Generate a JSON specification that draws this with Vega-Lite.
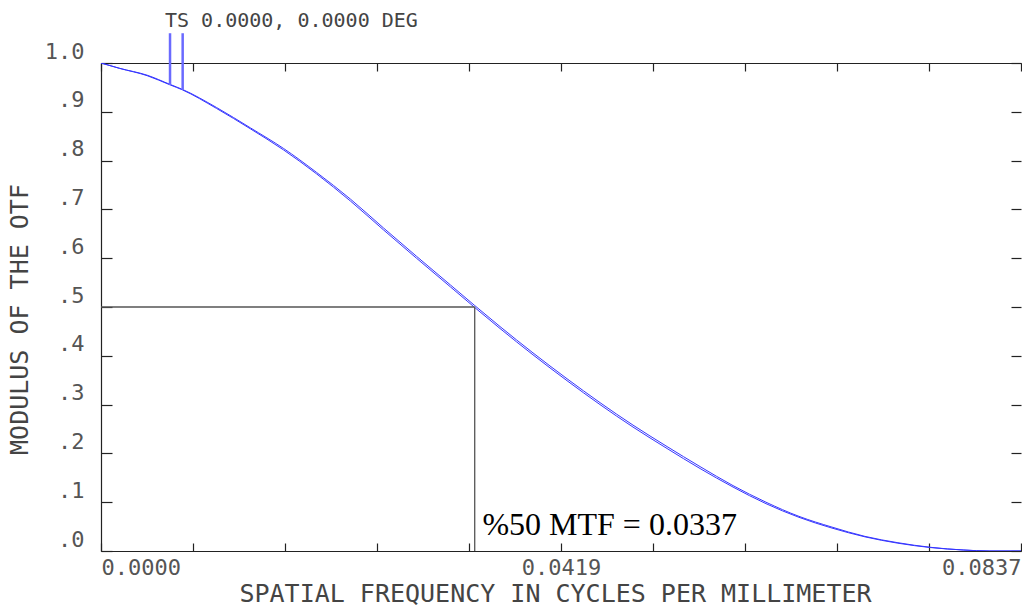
{
  "$schema": "https://vega.github.io/schema/vega-lite/v6.json",
  "width": 920,
  "height": 488,
  "autosize": {"type": "none"},
  "padding": {"left": 101, "top": 63, "right": 1, "bottom": 55},
  "background": "white",
  "config": {
    "view": {"stroke": null},
    "axis": {
      "grid": false,
      "domainColor": "#222",
      "domainWidth": 1.2,
      "tickColor": "#222",
      "tickWidth": 1.2,
      "labelFont": "DejaVu Sans Mono",
      "titleFont": "DejaVu Sans Mono",
      "labelColor": "#555",
      "titleColor": "#444",
      "labelFontSize": 22,
      "titleFontSize": 25,
      "titleFontWeight": "normal",
      "labelOverlap": false
    }
  },
  "datasets": {
    "curves": [
      {"series": "T", "f": 0, "v": 1.0},
      {"series": "T", "f": 0.0017, "v": 0.989},
      {"series": "T", "f": 0.0042, "v": 0.974},
      {"series": "T", "f": 0.0063, "v": 0.955},
      {"series": "T", "f": 0.0074, "v": 0.945},
      {"series": "T", "f": 0.0105, "v": 0.907},
      {"series": "T", "f": 0.0136, "v": 0.865},
      {"series": "T", "f": 0.0166, "v": 0.822},
      {"series": "T", "f": 0.0196, "v": 0.773},
      {"series": "T", "f": 0.0227, "v": 0.717},
      {"series": "T", "f": 0.0257, "v": 0.658},
      {"series": "T", "f": 0.0287, "v": 0.600},
      {"series": "T", "f": 0.0318, "v": 0.541},
      {"series": "T", "f": 0.0340, "v": 0.499},
      {"series": "T", "f": 0.0363, "v": 0.456},
      {"series": "T", "f": 0.0393, "v": 0.402},
      {"series": "T", "f": 0.0424, "v": 0.349},
      {"series": "T", "f": 0.0454, "v": 0.300},
      {"series": "T", "f": 0.0484, "v": 0.254},
      {"series": "T", "f": 0.0515, "v": 0.210},
      {"series": "T", "f": 0.0545, "v": 0.169},
      {"series": "T", "f": 0.0575, "v": 0.131},
      {"series": "T", "f": 0.0605, "v": 0.097},
      {"series": "T", "f": 0.0635, "v": 0.069},
      {"series": "T", "f": 0.0665, "v": 0.047},
      {"series": "T", "f": 0.0695, "v": 0.029},
      {"series": "T", "f": 0.0725, "v": 0.016},
      {"series": "T", "f": 0.0755, "v": 0.007},
      {"series": "T", "f": 0.0785, "v": 0.002},
      {"series": "T", "f": 0.0808, "v": 0},
      {"series": "T", "f": 0.0837, "v": 0},
      {"series": "S", "f": 0, "v": 1.0},
      {"series": "S", "f": 0.0017, "v": 0.989},
      {"series": "S", "f": 0.0042, "v": 0.975},
      {"series": "S", "f": 0.0063, "v": 0.956},
      {"series": "S", "f": 0.0074, "v": 0.946},
      {"series": "S", "f": 0.0105, "v": 0.909},
      {"series": "S", "f": 0.0136, "v": 0.867},
      {"series": "S", "f": 0.0166, "v": 0.825},
      {"series": "S", "f": 0.0196, "v": 0.776},
      {"series": "S", "f": 0.0227, "v": 0.721},
      {"series": "S", "f": 0.0257, "v": 0.662},
      {"series": "S", "f": 0.0287, "v": 0.604},
      {"series": "S", "f": 0.0318, "v": 0.545},
      {"series": "S", "f": 0.0340, "v": 0.503},
      {"series": "S", "f": 0.0363, "v": 0.460},
      {"series": "S", "f": 0.0393, "v": 0.406},
      {"series": "S", "f": 0.0424, "v": 0.353},
      {"series": "S", "f": 0.0454, "v": 0.304},
      {"series": "S", "f": 0.0484, "v": 0.258},
      {"series": "S", "f": 0.0515, "v": 0.214},
      {"series": "S", "f": 0.0545, "v": 0.173},
      {"series": "S", "f": 0.0575, "v": 0.134},
      {"series": "S", "f": 0.0605, "v": 0.100},
      {"series": "S", "f": 0.0635, "v": 0.071},
      {"series": "S", "f": 0.0665, "v": 0.049},
      {"series": "S", "f": 0.0695, "v": 0.030},
      {"series": "S", "f": 0.0725, "v": 0.017},
      {"series": "S", "f": 0.0755, "v": 0.0075},
      {"series": "S", "f": 0.0785, "v": 0.002},
      {"series": "S", "f": 0.0808, "v": 0},
      {"series": "S", "f": 0.0837, "v": 0}
    ],
    "guides": [
      {"x1": 0, "x2": 0.034, "y1": 0.5, "y2": 0.5},
      {"x1": 0.034, "x2": 0.034, "y1": 0, "y2": 0.5}
    ],
    "markers": [
      {"x1": 0.00628, "y1": 1.061, "y2": 0.955},
      {"x1": 0.00743, "y1": 1.061, "y2": 0.945}
    ],
    "note": [{"f": 0.0347, "v": 0.033, "label": "%50 MTF = 0.0337"}],
    "heading": [{"f": 0.00582, "v": 1.0738, "label": "TS 0.0000, 0.0000 DEG"}]
  },
  "layer": [
    {
      "data": {"name": "curves"},
      "mark": {"type": "line", "color": "#3535ff", "strokeWidth": 1, "interpolate": "monotone", "clip": true},
      "encoding": {
        "x": {
          "field": "f", "type": "quantitative",
          "scale": {"domain": [0, 0.0837], "nice": false, "zero": false},
          "axis": {
            "orient": "bottom",
            "values": [0, 0.00837, 0.01674, 0.02511, 0.03348, 0.04185, 0.05022, 0.05859, 0.06696, 0.07533, 0.0837],
            "tickSize": -8,
            "labelPadding": 14,
            "labelBaseline": "top",
            "labelAlign": {"condition": [{"test": "datum.value < 0.001", "value": "left"}, {"test": "datum.value > 0.083", "value": "right"}], "value": "center"},
            "labelExpr": "datum.value < 0.001 ? '0.0000' : (abs(datum.value - 0.04185) < 0.001 ? '0.0419' : (datum.value > 0.083 ? '0.0837' : ''))",
            "title": "SPATIAL FREQUENCY IN CYCLES PER MILLIMETER",
            "titleX": 454,
            "titleY": 42,
            "titleBaseline": "middle",
            "titleAlign": "center"
          }
        },
        "y": {
          "field": "v", "type": "quantitative",
          "scale": {"domain": [0, 1], "nice": false, "zero": false},
          "axis": {
            "orient": "left",
            "values": [0, 0.1, 0.2, 0.3, 0.4, 0.5, 0.6, 0.7, 0.8, 0.9, 1.0],
            "tickSize": -11,
            "labelPadding": 28,
            "labelBaseline": "alphabetic",
            "labelOffset": -5,
            "labelExpr": "replace(format(datum.value, '.1f'), '0.', '.')",
            "title": "MODULUS OF THE OTF",
            "titleX": -82,
            "titleY": 256,
            "titleAngle": -90,
            "titleBaseline": "middle",
            "titleAlign": "center"
          }
        },
        "detail": {"field": "series", "type": "nominal"}
      }
    },
    {
      "data": {"name": "guides"},
      "mark": {"type": "rule", "color": "#555", "strokeWidth": 1.3},
      "encoding": {
        "x": {
          "field": "x1", "type": "quantitative",
          "axis": {
            "orient": "top",
            "values": [0, 0.00837, 0.01674, 0.02511, 0.03348, 0.04185, 0.05022, 0.05859, 0.06696, 0.07533, 0.0837],
            "tickSize": -8,
            "labels": false,
            "title": null
          }
        },
        "x2": {"field": "x2"},
        "y": {
          "field": "y1", "type": "quantitative",
          "axis": {
            "orient": "right",
            "values": [0, 0.1, 0.2, 0.3, 0.4, 0.5, 0.6, 0.7, 0.8, 0.9, 1.0],
            "tickSize": -10,
            "labels": false,
            "domain": false,
            "title": null
          }
        },
        "y2": {"field": "y2"}
      }
    },
    {
      "data": {"name": "markers"},
      "mark": {"type": "rule", "color": "#6a6aff", "strokeWidth": 2.5},
      "encoding": {
        "x": {"field": "x1", "type": "quantitative", "axis": null},
        "y": {"field": "y1", "type": "quantitative", "axis": null},
        "y2": {"field": "y2"}
      }
    },
    {
      "data": {"name": "note"},
      "mark": {"type": "text", "font": "Liberation Serif", "fontSize": 32, "color": "#000", "align": "left", "baseline": "alphabetic"},
      "encoding": {
        "x": {"field": "f", "type": "quantitative", "axis": null},
        "y": {"field": "v", "type": "quantitative", "axis": null},
        "text": {"field": "label"}
      }
    },
    {
      "data": {"name": "heading"},
      "mark": {"type": "text", "font": "DejaVu Sans Mono", "fontSize": 20, "color": "#444", "align": "left", "baseline": "alphabetic"},
      "encoding": {
        "x": {"field": "f", "type": "quantitative", "axis": null},
        "y": {"field": "v", "type": "quantitative", "axis": null},
        "text": {"field": "label"}
      }
    }
  ]
}
